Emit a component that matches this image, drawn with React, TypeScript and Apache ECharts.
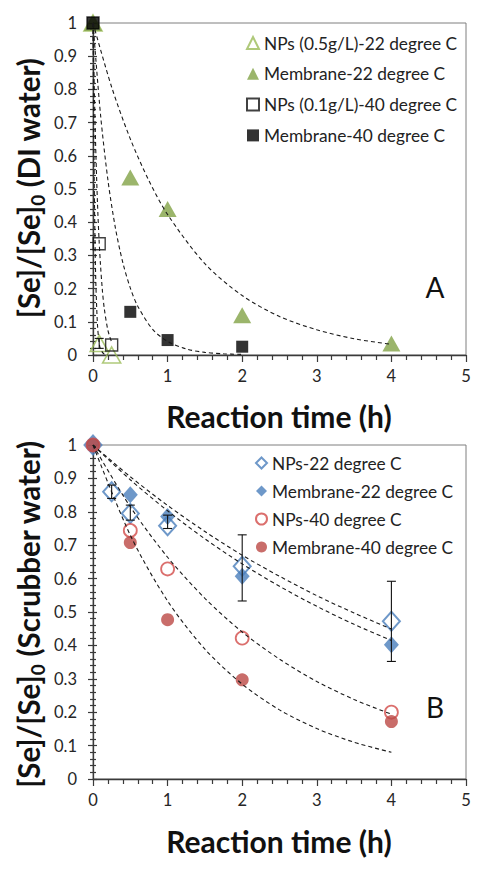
import React, { useEffect, useRef } from "react";
import * as echarts from "echarts";

// ---------- Data (panel A: DI water) ----------
const aNP05X = [0, 0.083, 0.25];
const aNP05Y = [1, 0.035, 0];
const aMem22X = [0, 0.5, 1, 2, 4];
const aMem22Y = [1, 0.535, 0.44, 0.12, 0.035];
const aNP01X = [0, 0.083, 0.25];
const aNP01Y = [1, 0.335, 0.03];
const aMem40X = [0, 0.5, 1, 2];
const aMem40Y = [1, 0.13, 0.045, 0.025];

const aErrX = [0.083];
const aErrLo = [0.02];
const aErrHi = [0.05];

// fitted dashed curves, panel A
const aFitMem22X = [0, 0.25, 0.5, 0.75, 1, 1.5, 2, 2.5, 3, 3.5, 4];
const aFitMem22Y = [1, 0.807, 0.651, 0.525, 0.423, 0.275, 0.179, 0.116, 0.076, 0.049, 0.032];
const aFitMem40X = [0, 0.1, 0.2, 0.3, 0.4, 0.5, 0.6, 0.8, 1, 1.25, 1.5, 1.75, 2];
const aFitMem40Y = [1, 0.726, 0.527, 0.383, 0.278, 0.202, 0.147, 0.077, 0.041, 0.018, 0.008, 0.0037, 0.0017];
const aFitNP01X = [0, 0.02, 0.04, 0.06, 0.08, 0.1, 0.125, 0.15, 0.2, 0.25];
const aFitNP01Y = [1, 0.771, 0.595, 0.458, 0.353, 0.273, 0.197, 0.142, 0.074, 0.039];
const aFitNP05X = [0, 0.01, 0.02, 0.03, 0.04, 0.06, 0.08, 0.1, 0.15, 0.2];
const aFitNP05Y = [1, 0.67, 0.449, 0.301, 0.202, 0.091, 0.041, 0.018, 0.0025, 0.0003];

// ---------- Data (panel B: Scrubber water) ----------
const bNP22X = [0, 0.25, 0.5, 1, 2, 4];
const bNP22Y = [1, 0.86, 0.795, 0.758, 0.637, 0.472];
const bMem22X = [0, 0.5, 1, 2, 4];
const bMem22Y = [1, 0.851, 0.786, 0.607, 0.402];
const bNP40X = [0, 0.5, 1, 2, 4];
const bNP40Y = [1, 0.744, 0.629, 0.422, 0.2];
const bMem40X = [0, 0.5, 1, 2, 4];
const bMem40Y = [1, 0.708, 0.477, 0.297, 0.172];

const bErrX = [0.25, 0.5, 1, 2, 4];
const bErrLo = [0.84, 0.775, 0.75, 0.533, 0.352];
const bErrHi = [0.88, 0.82, 0.79, 0.731, 0.592];

const bFitX = [0, 0.5, 1, 1.5, 2, 2.5, 3, 3.5, 4];
const bFitNP22Y = [1, 0.905, 0.819, 0.741, 0.67, 0.607, 0.549, 0.497, 0.449];
const bFitMem22Y = [1, 0.896, 0.803, 0.719, 0.644, 0.577, 0.517, 0.463, 0.415];
const bFitNP40Y = [1, 0.815, 0.664, 0.541, 0.44, 0.359, 0.292, 0.238, 0.194];
const bFitMem40Y = [1, 0.73, 0.533, 0.389, 0.284, 0.207, 0.151, 0.11, 0.08];

const legendA = [
  "NPs (0.5g/L)-22 degree C",
  "Membrane-22 degree C",
  "NPs (0.1g/L)-40 degree C",
  "Membrane-40 degree C",
];
const legendB = [
  "NPs-22 degree C",
  "Membrane-22 degree C ",
  "NPs-40 degree C",
  "Membrane-40 degree C ",
];

const xTitle = "Reaction time (h)";
const FONT = "Lato";

const zip = (xs: number[], ys: number[]) => xs.map((x, i) => [x, ys[i]]);
const zip3 = (xs: number[], a: number[], b: number[]) => xs.map((x, i) => [x, a[i], b[i]]);

function xAxisFor(g: number) {
  return {
    type: "value",
    gridIndex: g,
    min: 0,
    max: 5,
    interval: 1,
    axisLine: { show: true, onZero: false, lineStyle: { color: "#3a3a3a", width: 1.3 } },
    axisTick: { show: true, length: 7, lineStyle: { color: "#3a3a3a", width: 1.2 } },
    minorTick: { show: true, splitNumber: 5, length: 5, lineStyle: { color: "#3a3a3a", width: 1.2 } },
    splitLine: { show: false },
    minorSplitLine: { show: false },
    axisLabel: { fontFamily: FONT, fontSize: 16.5, color: "#262626", margin: 12 },
  };
}
function yAxisMain(g: number) {
  return {
    type: "value",
    gridIndex: g,
    min: 0,
    max: 1,
    interval: 0.1,
    position: "left",
    axisLine: { show: true, onZero: false, lineStyle: { color: "#3a3a3a", width: 1.3 } },
    axisTick: { show: true, length: 5, lineStyle: { color: "#3a3a3a", width: 1.2 } },
    minorTick: { show: true, splitNumber: 5, length: 3, lineStyle: { color: "#3a3a3a", width: 1.2 } },
    splitLine: { show: false },
    minorSplitLine: { show: false },
    axisLabel: { fontFamily: FONT, fontSize: 16.5, color: "#262626", margin: 16 },
  };
}
function yAxisInner(g: number) {
  return {
    type: "value",
    gridIndex: g,
    min: 0,
    max: 1,
    interval: 0.1,
    position: "left",
    offset: 0,
    axisLine: { show: false, onZero: false },
    axisTick: { show: true, inside: true, length: 4, lineStyle: { color: "#3a3a3a", width: 1.2 } },
    minorTick: { show: true, splitNumber: 5, length: 3, lineStyle: { color: "#3a3a3a", width: 1.2 } },
    splitLine: { show: false },
    minorSplitLine: { show: false },
    axisLabel: { show: false },
  };
}

function fitSeries(g: number, data: number[][]) {
  return {
    type: "line",
    xAxisIndex: g,
    yAxisIndex: g * 2,
    data,
    symbol: "none",
    smooth: 0.3,
    silent: true,
    lineStyle: { color: "#1a1a1a", width: 1.1, type: [4, 3] },
    z: 3,
  };
}

function errSeries(g: number, data: number[][]) {
  return {
    type: "custom",
    xAxisIndex: g,
    yAxisIndex: g * 2,
    data,
    silent: true,
    z: 4,
    encode: { x: 0, y: [1, 2] },
    renderItem: (params: any, api: any) => {
      const x = api.value(0);
      const lo = api.coord([x, api.value(1)]);
      const hi = api.coord([x, api.value(2)]);
      const w = 4.5;
      const st = { stroke: "#111", lineWidth: 1.1 };
      return {
        type: "group",
        children: [
          { type: "line", shape: { x1: lo[0], y1: lo[1], x2: hi[0], y2: hi[1] }, style: st },
          { type: "line", shape: { x1: hi[0] - w, y1: hi[1], x2: hi[0] + w, y2: hi[1] }, style: st },
          { type: "line", shape: { x1: lo[0] - w, y1: lo[1], x2: lo[0] + w, y2: lo[1] }, style: st },
        ],
      };
    },
  };
}

function scatter(g: number, name: string, data: number[][], symbol: string, size: any, itemStyle: any) {
  return {
    type: "scatter",
    name,
    xAxisIndex: g,
    yAxisIndex: g * 2,
    data,
    symbol,
    symbolSize: size,
    itemStyle,
    z: 2,
  };
}

const GREEN_L = "#9bbb59";
const GREEN = "#82a346";
const BLUE = "#4a7ebb";
const RED_L = "#d24b48";
const RED = "#bb4845";

export default function App() {
  const ref = useRef<HTMLDivElement>(null);
  useEffect(() => {
    if (!ref.current) return;
    const chart = echarts.init(ref.current, null, { renderer: "svg" });
    const titleRich = (fs: number) => ({
      m: { fontFamily: FONT, fontWeight: "bold", fontSize: fs, lineHeight: 38, verticalAlign: "middle", color: "#111" },
      s: { fontFamily: FONT, fontWeight: "bold", fontSize: 19, lineHeight: 19, padding: [15, 0, 0, 0], verticalAlign: "bottom", color: "#111" },
    });
    const legendText = { fontFamily: FONT, fontSize: 17.3, color: "#222", lineHeight: 20 };
    const option: any = {
      animation: false,
      backgroundColor: "#fff",
      grid: [
        { left: 93, top: 23, width: 373, height: 332, show: true, borderColor: "#7f7f7f", borderWidth: 1 },
        { left: 93, top: 445, width: 373, height: 334, show: true, borderColor: "#7f7f7f", borderWidth: 1 },
      ],
      xAxis: [xAxisFor(0), xAxisFor(1)],
      yAxis: [yAxisMain(0), yAxisInner(0), yAxisMain(1), yAxisInner(1)],
      legend: [
        {
          data: legendA,
          orient: "vertical",
          left: 246,
          top: 33,
          padding: 0,
          itemGap: 10.8,
          itemWidth: 12,
          itemHeight: 12,
          selectedMode: false,
          textStyle: legendText,
        },
        {
          data: legendB,
          orient: "vertical",
          left: 255,
          top: 453,
          padding: 0,
          itemGap: 8,
          itemWidth: 11,
          itemHeight: 11,
          selectedMode: false,
          textStyle: legendText,
          formatter: (n: string) => n.trim(),
        },
      ],
      series: [
        scatter(0, legendA[0], zip(aNP05X, aNP05Y), "triangle", [18, 16], { color: "rgba(255,255,255,0)", borderColor: GREEN_L, borderWidth: 1.6 }),
        scatter(0, legendA[1], zip(aMem22X, aMem22Y), "triangle", [18, 16], { color: GREEN }),
        scatter(0, legendA[2], zip(aNP01X, aNP01Y), "rect", 12, { color: "rgba(255,255,255,0)", borderColor: "#111", borderWidth: 1.4 }),
        scatter(0, legendA[3], zip(aMem40X, aMem40Y), "rect", 12, { color: "#000" }),
        fitSeries(0, zip(aFitMem22X, aFitMem22Y)),
        fitSeries(0, zip(aFitMem40X, aFitMem40Y)),
        fitSeries(0, zip(aFitNP01X, aFitNP01Y)),
        fitSeries(0, zip(aFitNP05X, aFitNP05Y)),
        errSeries(0, zip3(aErrX, aErrLo, aErrHi)),

        scatter(1, legendB[0], zip(bNP22X, bNP22Y), "diamond", [17, 19], { color: "rgba(255,255,255,0)", borderColor: BLUE, borderWidth: 2 }),
        scatter(1, legendB[1], zip(bMem22X, bMem22Y), "diamond", [15, 17], { color: BLUE }),
        scatter(1, legendB[2], zip(bNP40X, bNP40Y), "circle", 13, { color: "rgba(255,255,255,0)", borderColor: RED_L, borderWidth: 1.8 }),
        scatter(1, legendB[3], zip(bMem40X, bMem40Y), "circle", 13, { color: RED }),
        fitSeries(1, zip(bFitX, bFitNP22Y)),
        fitSeries(1, zip(bFitX, bFitMem22Y)),
        fitSeries(1, zip(bFitX, bFitNP40Y)),
        fitSeries(1, zip(bFitX, bFitMem40Y)),
        errSeries(1, zip3(bErrX, bErrLo, bErrHi)),
      ],
      graphic: [
        {
          type: "text", x: 279, y: 416,
          style: { text: xTitle, font: `bold 30px ${FONT}`, fill: "#111", textAlign: "center", textVerticalAlign: "middle", align: "center", verticalAlign: "middle" },
        },
        {
          type: "text", x: 279, y: 841,
          style: { text: xTitle, font: `bold 30px ${FONT}`, fill: "#111", textAlign: "center", textVerticalAlign: "middle", align: "center", verticalAlign: "middle" },
        },
        {
          type: "text", x: 28, y: 188, rotation: Math.PI / 2,
          style: { text: "{m|[Se]/[Se]}{s|0}{m| (DI water)}", rich: titleRich(29.5), fill: "#111", textAlign: "center", textVerticalAlign: "middle", align: "center", verticalAlign: "middle" },
        },
        {
          type: "text", x: 28, y: 614, rotation: Math.PI / 2,
          style: { text: "{m|[Se]/[Se]}{s|0}{m| (Scrubber water)}", rich: titleRich(29.5), fill: "#111", textAlign: "center", textVerticalAlign: "middle", align: "center", verticalAlign: "middle" },
        },
        {
          type: "text", x: 435, y: 287,
          style: { text: "A", font: `28px ${FONT}`, fill: "#111", textAlign: "center", textVerticalAlign: "middle", align: "center", verticalAlign: "middle" },
        },
        {
          type: "text", x: 435, y: 707,
          style: { text: "B", font: `28px ${FONT}`, fill: "#111", textAlign: "center", textVerticalAlign: "middle", align: "center", verticalAlign: "middle" },
        },
      ],
    };
    chart.setOption(option);
    return () => chart.dispose();
  }, []);
  return (
    <div
      ref={ref}
      style={{ position: "absolute", left: 0, top: 0, width: 483, height: 869, background: "#fff" }}
    />
  );
}
